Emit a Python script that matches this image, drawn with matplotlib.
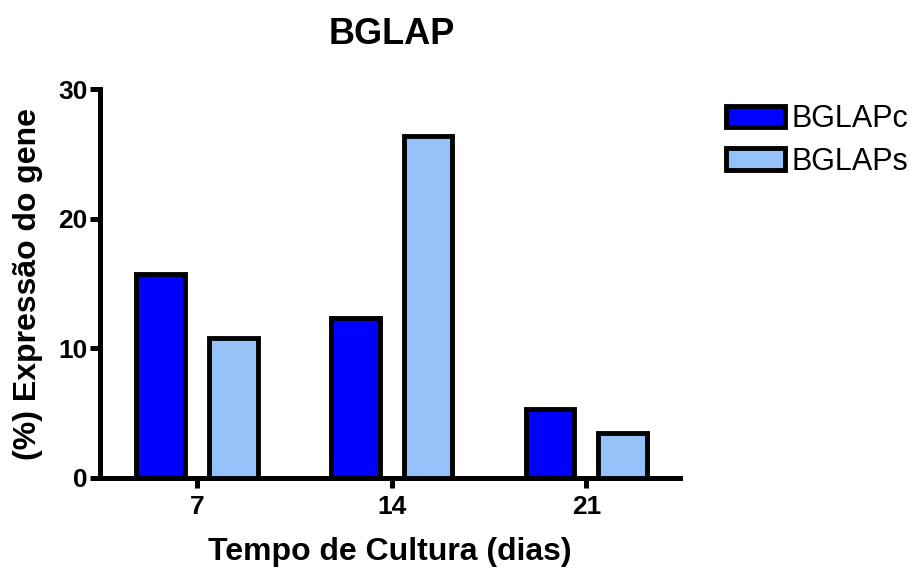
import matplotlib
matplotlib.use("Agg")
import matplotlib.pyplot as plt
import numpy as np
from matplotlib.patches import Patch

plt.rcParams['font.family'] = ['Liberation Sans', 'DejaVu Sans']

categories = ["7", "14", "21"]
bglapc = [15.7, 12.3, 5.3]
bglaps = [10.8, 26.4, 3.5]
series_names = ["BGLAPc", "BGLAPs"]
colors = ["#0000FF", "#94C1F7"]

fig = plt.figure(figsize=(9.15, 5.71), dpi=100)
ax = fig.add_axes([0.109, 0.163, 0.634, 0.681])

x = np.arange(len(categories))
w = 0.25
off = 0.187
ax.bar(x - off, bglapc, width=w, color=colors[0], edgecolor="black", linewidth=3.5, zorder=3)
ax.bar(x + off, bglaps, width=w, color=colors[1], edgecolor="black", linewidth=3.5, zorder=3)

ax.set_xlim(-0.5, 2.48)
ax.set_ylim(0, 30)
ax.set_yticks([0, 10, 20, 30])
ax.set_xticks(x)
ax.set_xticklabels(categories)
for s in ["top", "right"]:
    ax.spines[s].set_visible(False)
for s in ["left", "bottom"]:
    ax.spines[s].set_linewidth(3.6)
ax.tick_params(axis="both", width=3.6, length=7, labelsize=19)
ax.tick_params(axis="x", pad=5)
ax.tick_params(axis="y", pad=2)
for lab in ax.get_xticklabels() + ax.get_yticklabels():
    lab.set_fontweight("bold")

ax.set_xlabel("Tempo de Cultura (dias)", fontsize=23, fontweight="bold", labelpad=13)
ax.set_ylabel("(%) Expressão do gene", fontsize=23, fontweight="bold", labelpad=11)
fig.text(0.428, 0.939, "BGLAP", fontsize=26, fontweight="bold", ha="center", va="center")

handles = [Patch(facecolor=colors[0], edgecolor="black", linewidth=3.5),
           Patch(facecolor=colors[1], edgecolor="black", linewidth=3.5)]
fig.legend(handles, series_names, loc="upper left", bbox_to_anchor=(0.793, 0.818),
           frameon=False, fontsize=22, handlelength=1.95, handleheight=0.7,
           handletextpad=0.2, labelspacing=0.42, borderaxespad=0, borderpad=0)

fig.savefig("out.png", dpi=100)
